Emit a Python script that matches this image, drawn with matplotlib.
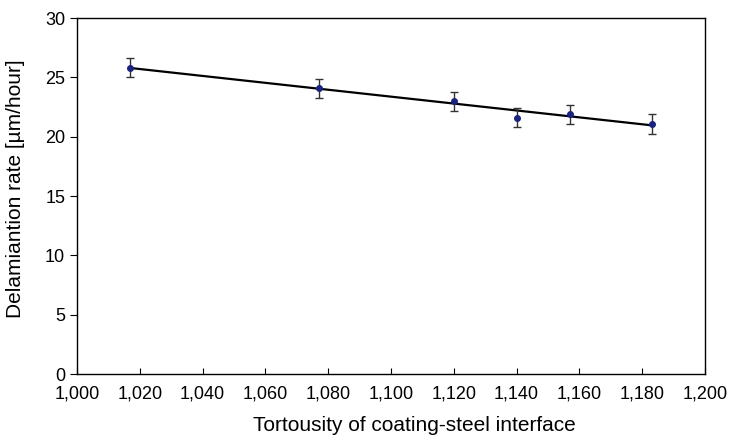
import numpy as np
import matplotlib
matplotlib.use("Agg")
import matplotlib.pyplot as plt
from matplotlib.ticker import FuncFormatter

plt.rcParams['font.family'] = ['Liberation Sans', 'DejaVu Sans']

tortuosity = [1.017, 1.077, 1.120, 1.140, 1.157, 1.183]
delam_rate = [25.8, 24.1, 23.0, 21.6, 21.9, 21.1]
delam_err = [0.8, 0.8, 0.8, 0.8, 0.8, 0.85]
x_ticks = [1.00, 1.02, 1.04, 1.06, 1.08, 1.10, 1.12, 1.14, 1.16, 1.18, 1.20]
y_ticks = [0, 5, 10, 15, 20, 25, 30]

fig = plt.figure(figsize=(7.31, 4.36), dpi=100)
ax = fig.add_axes([0.1053, 0.1422, 0.8591, 0.8165])

x = np.array(tortuosity)
y = np.array(delam_rate)
coef = np.polyfit(x, y, 1)
xf = np.array([x.min(), x.max()])
ax.plot(xf, np.polyval(coef, xf), color='black', lw=1.6, zorder=2)

ax.errorbar(x, y, yerr=delam_err, fmt='o', color='#1a237e', ms=4,
            ecolor='#333333', elinewidth=1.0, capsize=3, capthick=1.0, zorder=3)

ax.set_xlim(1.0, 1.2)
ax.set_ylim(0, 30)
ax.set_xticks(x_ticks)
ax.set_yticks(y_ticks)
ax.xaxis.set_major_formatter(FuncFormatter(lambda v, p: f"{v:.3f}".replace('.', ',')))
ax.tick_params(axis='x', direction='in', length=4, labelsize=13, pad=8)
ax.tick_params(axis='y', direction='out', length=5, labelsize=13)
for s in ax.spines.values():
    s.set_linewidth(1.0)
ax.set_xlabel('Tortousity of coating-steel interface', fontsize=15)
ax.set_ylabel('Delamiantion rate [µm/hour]', fontsize=15)
ax.xaxis.set_label_coords(0.538, -0.118, transform=ax.transAxes)
ax.yaxis.set_label_coords(-0.083, 0.52, transform=ax.transAxes)

fig.savefig('out.png', dpi=100)
